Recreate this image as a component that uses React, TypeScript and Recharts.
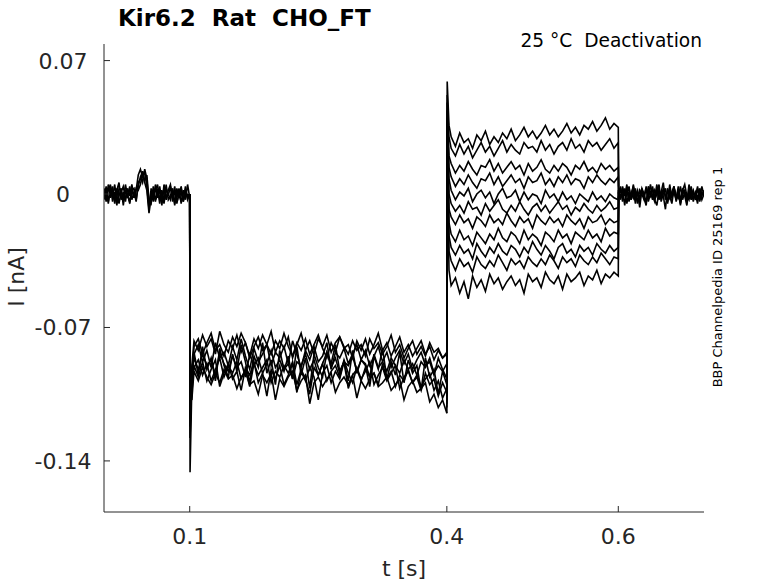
import { LineChart, Line, XAxis, YAxis } from 'recharts'

// current values are in pA (1/1000 nA), converted when the point lists are built

// 0 - 0.1 s, sampled every 2.5 ms
const baseA = [
  [3, -4, 5, -2, 4, -5, 2, 6, -3, 1, -4, 3, -1, 5, -2, 2, 10, 13, 9, 12, 4, -8, 3, -3, 5, -2, 4, -4, 3, -3, 2, 5, -2, 4, -5, 1, 3, -4, 2, -1, 0],
  [-3, 4, -5, 3, -2, 5, -4, -1, 3, -6, 2, -2, 4, -3, 1, -4, 6, 8, 12, 7, 10, -3, -5, 4, -4, 3, -5, 2, -4, 5, -3, -1, 3, -6, 2, -2, 4, -3, 1, -2, -1],
  [1, -2, 2, 5, -4, 1, -6, 3, 2, -3, 5, -1, -4, 2, -2, 3, 2, 5, 11, 6, 2, -10, -2, 1, -3, -1, 2, -6, 5, -1, 0, -3, 2, -5, 3, -2, 1, -4, 4, -3, 0],
  [-1, 2, -4, 4, 0, -3, 3, -5, 1, 4, -2, 0, -5, 2, 3, -3, 4, 9, 6, 13, 8, -6, 1, -4, 2, 5, -3, 0, -5, 3, -1, 4, -4, 1, -2, 3, -5, 2, -3, 5, -2],
]

// 0.1 s step: drop, early recovery, then 0.105 - 0.4 s every 5 ms
const dropB = [-146, -128, -118, -110, -104, -115, -108, -122]
const recovB = [-100, -96, -104, -92, -108, -94, -90, -98]
const stepB = [
  [-80, -76, -84, -78, -73, -82, -79, -85, -77, -81, -74, -83, -78, -86, -80, -75, -82, -79, -84, -77,
    -81, -73, -80, -85, -78, -82, -76, -84, -79, -74, -81, -86, -78, -83, -75, -80, -84, -77, -82, -79,
    -85, -76, -81, -78, -84, -80, -74, -83, -79, -86, -81, -77, -84, -80, -85, -78, -83, -81, -86, -84],
  [-86, -92, -84, -90, -87, -95, -83, -89, -93, -85, -91, -88, -96, -84, -90, -86, -94, -89, -82, -91,
    -87, -93, -85, -97, -88, -90, -84, -92, -87, -95, -89, -83, -91, -86, -94, -88, -90, -85, -93, -87,
    -89, -96, -84, -91, -88, -93, -86, -90, -94, -87, -92, -89, -95, -88, -91, -86, -94, -90, -93, -89],
  [-90, -96, -88, -98, -92, -87, -101, -94, -89, -97, -93, -103, -91, -95, -88, -99, -94, -106, -92, -97,
    -90, -100, -95, -89, -104, -93, -98, -91, -96, -108, -94, -90, -99, -93, -97, -88, -102, -95, -92, -98,
    -91, -96, -94, -100, -89, -97, -93, -101, -95, -98, -92, -99, -96, -103, -94, -100, -97, -106, -99, -104],
  [-84, -79, -88, -82, -91, -78, -86, -83, -90, -80, -87, -76, -85, -92, -81, -88, -84, -79, -90, -83,
    -86, -80, -89, -77, -84, -91, -82, -87, -80, -88, -85, -78, -92, -83, -86, -81, -89, -84, -79, -87,
    -82, -90, -85, -80, -88, -83, -91, -86, -82, -89, -84, -92, -87, -83, -90, -88, -95, -86, -92, -97],
  [-93, -98, -91, -96, -100, -94, -99, -92, -97, -95, -102, -96, -93, -100, -98, -105, -95, -99, -94, -108,
    -97, -101, -96, -93, -103, -98, -95, -110, -99, -96, -101, -97, -94, -104, -99, -96, -100, -95, -107, -98,
    -102, -97, -94, -101, -99, -96, -103, -100, -97, -108, -101, -98, -104, -102, -99, -109, -105, -112, -108, -115],
  [-83, -95, -80, -92, -86, -98, -81, -90, -96, -84, -93, -79, -88, -99, -85, -91, -78, -94, -87, -100,
    -82, -92, -89, -97, -80, -95, -86, -102, -84, -91, -96, -83, -89, -79, -93, -88, -98, -82, -94, -87,
    -90, -101, -85, -92, -81, -97, -88, -95, -83, -99, -87, -94, -90, -103, -86, -96, -92, -105, -93, -100],
  [-77, -82, -74, -80, -76, -84, -72, -79, -83, -75, -80, -73, -78, -85, -76, -81, -74, -79, -72, -83,
    -77, -81, -75, -86, -79, -73, -82, -77, -84, -76, -80, -74, -83, -78, -75, -81, -79, -86, -77, -82,
    -76, -84, -79, -73, -82, -78, -85, -80, -75, -83, -79, -85, -81, -77, -84, -80, -87, -82, -86, -83],
  [-91, -87, -95, -89, -98, -92, -86, -96, -90, -94, -88, -97, -92, -101, -89, -95, -91, -87, -99, -93,
    -96, -90, -94, -88, -100, -92, -97, -105, -91, -95, -89, -98, -93, -90, -96, -87, -94, -99, -91, -97,
    -93, -88, -100, -95, -91, -98, -94, -90, -102, -96, -93, -99, -95, -101, -97, -94, -103, -98, -107, -102],
]

// 0.4 s step: start, spike, settle, then 0.405 - 0.6 s every 5 ms, then back to baseline
const startC = [-112, -104, -98, -108, -100, -115, -95, -106, -102, -110, -97]
const spikeC = [59, 48, 40, 52, 35, 44, 30, 38, 26, 33, 20]
const settleC = [36, 30, 20, 14, 8, 0, -8, -15, -22, -30, -40]
const endC = [3, -2, 4, -1, 2, -3, 1, -2, 3, 0, -1]
const stepC = [
  [30, 25, 32, 27, 29, 24, 31, 28, 33, 26, 30, 27, 32, 29, 34, 28, 31, 35, 30, 33, 29, 32, 36, 31, 34, 30, 33, 37, 32, 35, 31, 36, 34, 38, 33, 36, 40, 34, 37, 35],
  [24, 20, 26, 21, 25, 19, 23, 27, 22, 25, 20, 24, 28, 22, 26, 23, 21, 27, 24, 25, 22, 28, 23, 26, 21, 25, 27, 23, 29, 24, 26, 22, 28, 25, 27, 23, 26, 29, 24, 27],
  [16, 11, 15, 12, 17, 13, 10, 15, 14, 18, 12, 16, 11, 14, 17, 13, 15, 10, 16, 12, 14, 18, 13, 11, 15, 12, 16, 14, 10, 15, 13, 17, 12, 14, 11, 16, 13, 15, 12, 14],
  [9, 4, 8, 5, 10, 6, 3, 8, 7, 11, 5, 9, 4, 7, 10, 6, 8, 3, 9, 6, 7, 11, 5, 8, 4, 9, 6, 10, 5, 8, 7, 3, 9, 6, 10, 7, 5, 8, 6, 9],
  [2, -3, 1, -1, 3, -4, 0, 2, -2, 1, -5, 0, 3, -2, -1, 2, -4, 1, -3, 0, -1, -5, 2, -2, 0, -4, 1, -3, -1, -5, 0, -2, -4, 1, -3, -1, -4, 0, -2, -3],
  [-5, -9, -6, -10, -4, -8, -7, -11, -5, -9, -6, -3, -8, -10, -6, -9, -4, -8, -11, -7, -5, -9, -6, -10, -7, -4, -8, -6, -11, -7, -9, -5, -8, -10, -6, -9, -7, -4, -8, -7],
  [-12, -16, -11, -15, -13, -18, -12, -14, -17, -11, -15, -13, -16, -10, -14, -17, -12, -15, -13, -18, -11, -14, -16, -12, -15, -13, -17, -11, -14, -16, -13, -18, -12, -15, -14, -11, -16, -13, -15, -14],
  [-21, -25, -19, -24, -22, -27, -20, -23, -26, -21, -24, -18, -23, -25, -20, -22, -26, -19, -24, -21, -23, -27, -20, -22, -25, -19, -23, -21, -26, -20, -22, -24, -19, -23, -21, -25, -18, -22, -20, -21],
  [-28, -32, -27, -31, -29, -34, -26, -30, -33, -28, -31, -26, -30, -32, -27, -29, -33, -28, -31, -25, -29, -32, -27, -30, -34, -28, -26, -31, -29, -33, -27, -30, -28, -32, -26, -29, -31, -27, -30, -28],
  [-35, -40, -34, -38, -36, -41, -33, -37, -39, -35, -38, -32, -36, -40, -34, -37, -35, -39, -33, -36, -38, -34, -37, -32, -35, -39, -33, -36, -34, -38, -32, -35, -37, -33, -36, -31, -34, -37, -33, -34],
  [-48, -44, -52, -46, -55, -43, -49, -45, -51, -42, -47, -44, -50, -46, -43, -48, -45, -52, -42, -46, -44, -49, -41, -45, -47, -43, -50, -42, -46, -44, -41, -48, -43, -45, -40, -47, -42, -44, -41, -43],
]

// 0.6 - 0.7 s, sampled every 2.5 ms
const tailD = [
  [2, -3, 4, -1, 5, -4, 1, -2, 3, -5, 2, 0, -3, 4, -2, 5, -1, -4, 3, -2, 1, 6, -3, 2, -1, -5, 3, 0, -2, 4, -3, 1, -4, 5, -1, 2, -3, 3, -2, 4, -1],
  [-2, 3, -4, 1, -1, 4, -3, 2, -5, 1, -2, 3, 0, -4, 2, -1, 4, -3, -6, 2, -2, 3, -1, -4, 5, -2, 1, -3, 4, -5, 0, 2, -3, -1, 3, -4, 1, -2, 2, -3, 0],
  [1, -1, 2, -6, 3, -2, 0, 4, -3, 1, -7, 2, -1, 3, -4, 0, 2, -2, 5, -3, 1, -1, -8, 3, -2, 1, 4, -4, 0, -2, 3, -1, -6, 2, -3, 1, -2, 4, -4, 1, -1],
  [0, 4, -2, 3, -5, 1, -3, 5, -1, 2, -4, 3, -2, -6, 4, 1, -3, 2, -1, 5, -4, 0, 3, -5, 2, -2, 4, -3, 1, -6, 2, 5, -1, -3, 4, -2, 0, -5, 3, -1, 2],
]

const xTicks = [0.1, 0.4, 0.6]
const yTicks = [-0.14, -0.07, 0, 0.07]

const pt = (t: number, v: number) => ({ t, v: v / 1000 })
const sampled = (t0: number, dt: number, vals: number[]) => vals.map((v, i) => pt(t0 + i * dt, v))

const traces = [
  ...baseA.map(vals => sampled(0, 0.0025, vals)),
  ...stepB.map((vals, i) => [pt(0.1, 0), pt(0.1004, dropB[i]), pt(0.1025, recovB[i]), ...sampled(0.105, 0.005, vals)]),
  ...stepC.map((vals, i) => [
    pt(0.4, startC[i]), pt(0.4004, spikeC[i]), pt(0.4025, settleC[i]),
    ...sampled(0.405, 0.005, vals), pt(0.6004, endC[i]),
  ]),
  ...tailD.map(vals => sampled(0.6, 0.0025, vals)),
]

const font = 'DejaVu Sans, sans-serif'
const axisColor = '#262626'

// y labels sit centred in the gutter, the way the original figure has them
function YTick({ y, payload }: any) {
  return (
    <text x={63} y={y} dy="0.36em" textAnchor="middle" fill={axisColor} fontSize={22} fontFamily={font}>
      {String(payload.value)}
    </text>
  )
}

export default function App() {
  return (
    <div style={{ position: 'absolute', left: 0, top: 0, width: 778, height: 583, background: '#fff' }}>
      <LineChart width={778} height={583} margin={{ top: 44, right: 74, bottom: 0, left: 0 }}>
        <XAxis
          dataKey="t"
          type="number"
          domain={[0, 0.7]}
          ticks={xTicks}
          tickFormatter={v => String(v)}
          height={71}
          allowDataOverflow
          stroke={axisColor}
          tickSize={-6}
          tickMargin={22}
          tick={{ fill: axisColor, fontSize: 22, fontFamily: font }}
        />
        <YAxis
          type="number"
          domain={[-0.1668, 0.0787]}
          ticks={yTicks}
          width={104}
          allowDataOverflow
          stroke={axisColor}
          tickSize={-6}
          tick={<YTick />}
        />
        {traces.map((d, i) => (
          <Line
            key={i}
            data={d}
            dataKey="v"
            type="linear"
            stroke="#000"
            strokeWidth={1.6}
            dot={false}
            activeDot={false}
            isAnimationActive={false}
          />
        ))}
      </LineChart>
      <svg width={778} height={583} style={{ position: 'absolute', left: 0, top: 0, pointerEvents: 'none' }}>
        <text x={118} y={26} fontFamily={font} fontWeight="bold" fontSize={23} fill="#000" style={{ whiteSpace: 'pre' }}>
          {'Kir6.2  Rat  CHO_FT'}
        </text>
        <text x={702} y={47} textAnchor="end" fontFamily={font} fontSize={18.6} fill="#000" style={{ whiteSpace: 'pre' }}>
          {'25 °C  Deactivation'}
        </text>
        <text x={404} y={576} textAnchor="middle" fontFamily={font} fontSize={22} fill={axisColor}>
          t [s]
        </text>
        <text x={24} y={277} textAnchor="middle" fontFamily={font} fontSize={22} fill={axisColor} transform="rotate(-90 24 277)">
          I [nA]
        </text>
        <text x={722} y={277} textAnchor="middle" fontFamily={font} fontSize={13} fill="#000" transform="rotate(-90 722 277)">
          BBP Channelpedia ID 25169 rep 1
        </text>
      </svg>
    </div>
  )
}
